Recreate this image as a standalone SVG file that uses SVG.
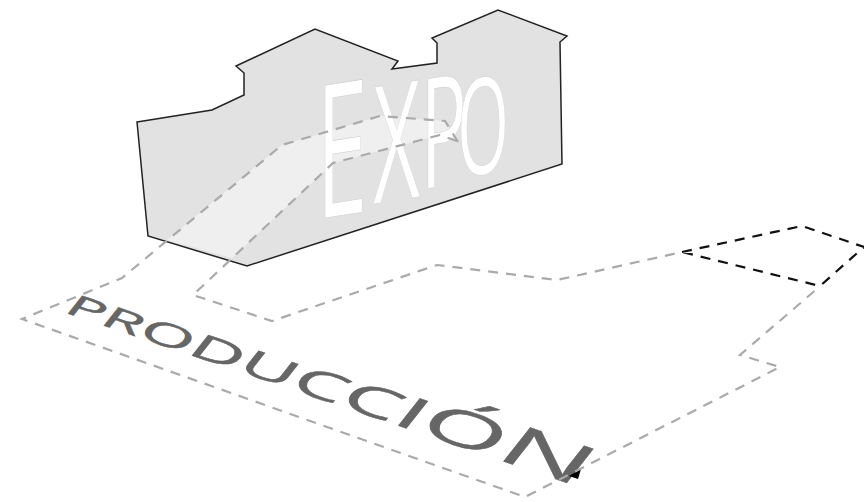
<svg xmlns="http://www.w3.org/2000/svg" width="864" height="502" viewBox="0 0 864 502">
<style>
.d{fill:none;stroke:#aaa;stroke-width:2.2;stroke-dasharray:10 8}
.k{fill:none;stroke:#111;stroke-width:2.2;stroke-dasharray:10 8}
.t{font-family:"Open Sans","Liberation Sans",sans-serif}
</style>
<rect width="864" height="502" fill="#fff"/>
<g id="building">
<path d="M137 122L212 110L244 95V73L236 66L315 29L398 61L392 69L437 63V43L432 38L498 10L567 36L560 42L562 164L247 266L148 236Z" fill="#e2e2e2" stroke="#222" stroke-width="1.5"/>
<path d="M167 240L282 145L380 116L445 121L458 142L440 135L333 163L232 258Z" fill="#efefef"/>
<text class="t" transform="matrix(0.5 -0.08 0 1 0 0)" fill="#fff" stroke="#ccc" stroke-width="0.5"><tspan x="632" y="270" font-size="186">E</tspan><tspan x="746" y="264" font-size="164">X</tspan><tspan x="841" y="257" font-size="154">P</tspan><tspan x="914" y="251" font-size="134">O</tspan></text>
</g>
<g id="production">
<text class="t" transform="matrix(1.56 0.53 -0.52 0.66 11 -7)" fill="#666" stroke="#666" stroke-width="0.6"><tspan x="153" y="360" font-size="38">P</tspan><tspan font-size="39">R</tspan><tspan font-size="41">O</tspan><tspan font-size="44">D</tspan><tspan font-size="46">U</tspan><tspan font-size="50">C</tspan><tspan font-size="54">C</tspan><tspan font-size="58">I</tspan><tspan font-size="64">Ó</tspan><tspan font-size="72">N</tspan></text>
<path d="M569 476L581 469L578 479Z" fill="#000"/>
</g>
<g id="connectors">
<path class="d" d="M458 142L445 121L380 116L282 145L122 278L22 319L525 497L780 367L740 355L818 288"/>
<path class="d" d="M457 141L440 135L333 163L193 295L272 321L437 265L557 280L682 252"/>
<path class="k" d="M682 252L802 226L864 247L820 286Z"/>
</g>
</svg>
